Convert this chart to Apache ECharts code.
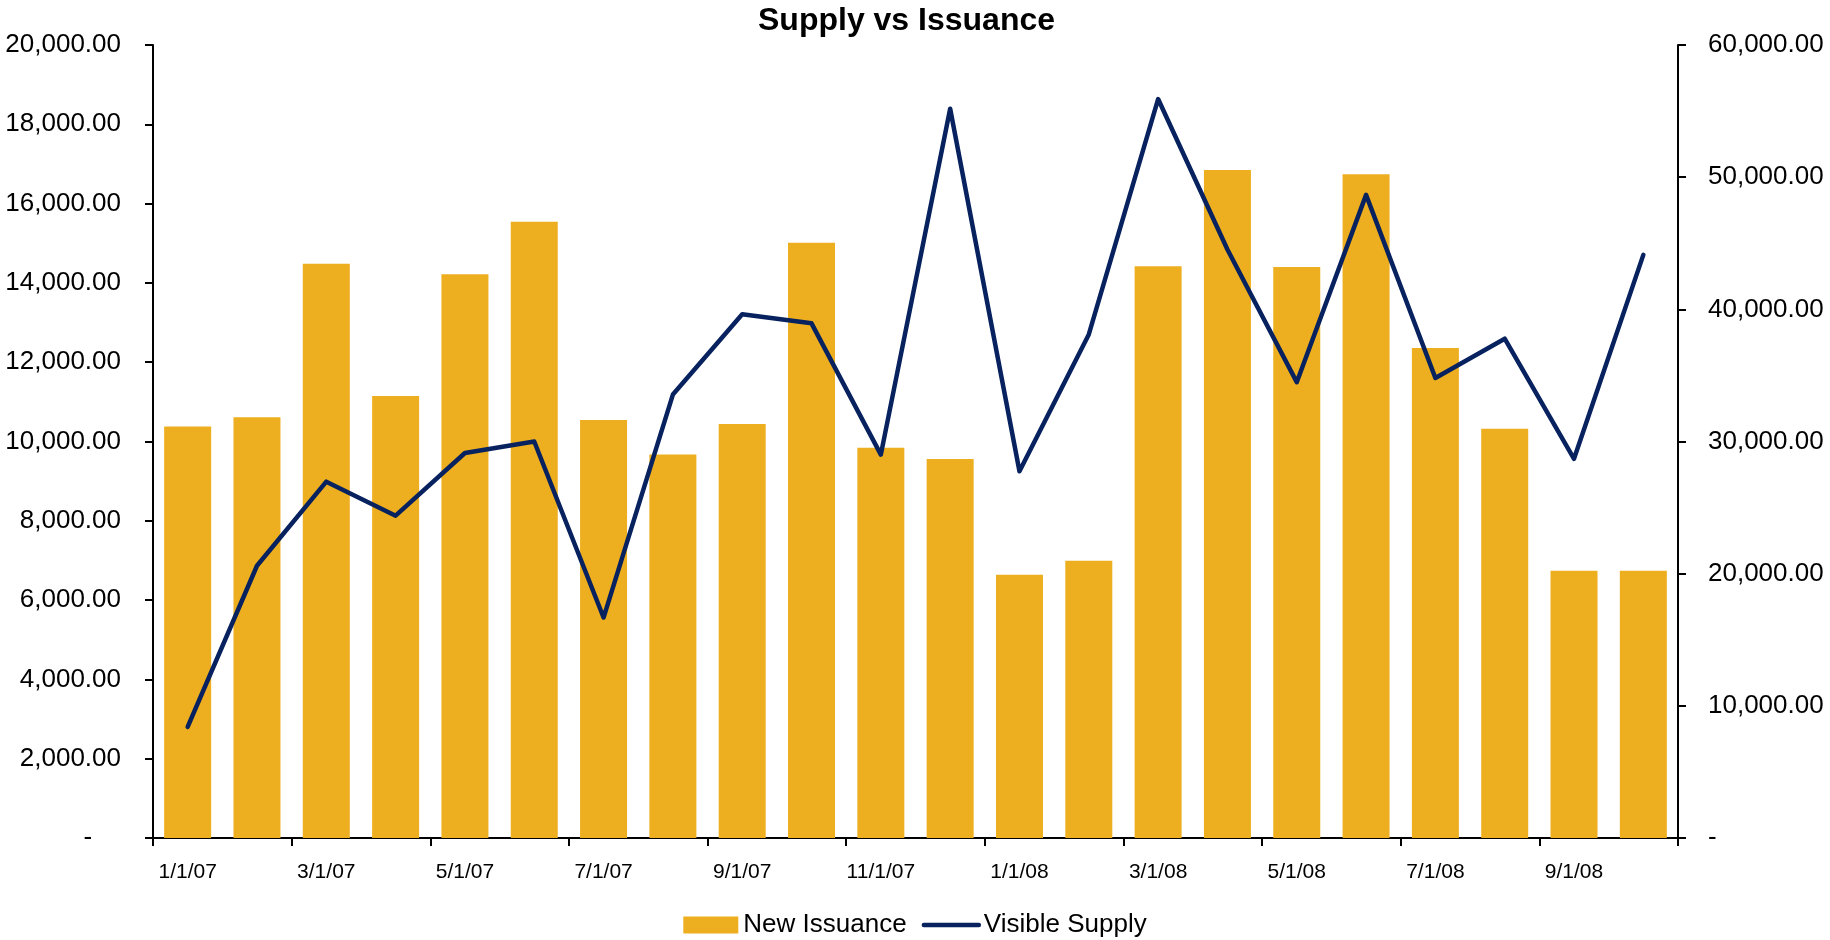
<!DOCTYPE html>
<html>
<head>
<meta charset="utf-8">
<script src="https://cdn.jsdelivr.net/npm/echarts@6/dist/echarts.min.js"></script>
<style>
html,body{margin:0;padding:0;background:#fff;}
#chart{width:1830px;height:940px;}
</style>
</head>
<body>
<div id="chart"></div>
<script>
var categories = ['1/1/07','2/1/07','3/1/07','4/1/07','5/1/07','6/1/07','7/1/07','8/1/07','9/1/07','10/1/07','11/1/07','12/1/07',
                  '1/1/08','2/1/08','3/1/08','4/1/08','5/1/08','6/1/08','7/1/08','8/1/08','9/1/08','10/1/08'];
var newIssuance = [10380, 10610, 14480, 11150, 14220, 15540, 10540, 9670, 10440, 15010, 9840, 9560,
                   6640, 6990, 14420, 16850, 14400, 16740, 12360, 10320, 6740, 6740];
var visibleSupply = [8400, 20600, 26960, 24390, 29130, 30000, 16680, 33550, 39630, 38940, 29010, 55180,
                     27750, 38100, 55910, 44530, 34490, 48660, 34810, 37780, 28690, 44120];
var seriesNames = ['New Issuance', 'Visible Supply'];
var titleText = 'Supply vs Issuance';

var FONT = "'Liberation Sans', Arial, sans-serif";
function fmt(v) {
  return v.toLocaleString('en-US', {minimumFractionDigits: 2, maximumFractionDigits: 2});
}
var chart = echarts.init(document.getElementById('chart'), null, {renderer: 'canvas'});
var axisLineStyle = {color: '#000', width: 2};
chart.setOption({
  animation: false,
  backgroundColor: '#fff',
  title: {
    text: titleText,
    left: 753,
    top: 0,
    textStyle: {fontFamily: FONT, fontSize: 32, fontWeight: 'bold', color: '#000'}
  },
  legend: {
    data: [
      {name: seriesNames[0], icon: 'rect'},
      {name: seriesNames[1], itemStyle: {opacity: 0}}
    ],
    left: 'center',
    top: 907,
    itemWidth: 55,
    itemHeight: 17,
    itemGap: 15,
    lineStyle: {width: 4.5},
    textStyle: {fontFamily: FONT, fontSize: 26, color: '#000'}
  },
  grid: {left: 153, right: 152, top: 45, bottom: 102, containLabel: false, outerBoundsMode: 'none'},
  xAxis: {
    type: 'category',
    data: categories,
    boundaryGap: true,
    axisLine: {lineStyle: axisLineStyle},
    axisTick: {show: true, interval: 1, length: 8, inside: false, lineStyle: {color: '#000', width: 2}},
    axisLabel: {interval: 1, margin: 24, fontFamily: FONT, fontSize: 21, color: '#000'},
    splitLine: {show: false}
  },
  yAxis: [
    {
      type: 'value', min: 0, max: 20000, interval: 2000, position: 'left',
      axisLine: {show: true, lineStyle: axisLineStyle},
      axisTick: {show: true, length: 8, lineStyle: {color: '#000', width: 2}},
      axisLabel: {margin: 32, fontFamily: FONT, fontSize: 26, color: '#000',
        formatter: function (v) { return v === 0 ? '-    ' : fmt(v); }},
      splitLine: {show: false}
    },
    {
      type: 'value', min: 0, max: 60000, interval: 10000, position: 'right',
      axisLine: {show: true, lineStyle: axisLineStyle},
      axisTick: {show: true, length: 8, lineStyle: {color: '#000', width: 2}},
      axisLabel: {margin: 30, fontFamily: FONT, fontSize: 26, color: '#000',
        formatter: function (v) { return v === 0 ? '-' : fmt(v); }},
      splitLine: {show: false}
    }
  ],
  series: [
    {
      name: seriesNames[0], type: 'bar', yAxisIndex: 0, data: newIssuance,
      barWidth: 47,
      itemStyle: {color: '#EDAF1F'}
    },
    {
      name: seriesNames[1], type: 'line', yAxisIndex: 1, data: visibleSupply,
      symbol: 'none', showSymbol: false,
      lineStyle: {color: '#07225F', width: 4.5, cap: 'round', join: 'round'},
      itemStyle: {color: '#07225F'}
    }
  ]
});
</script>
</body>
</html>
